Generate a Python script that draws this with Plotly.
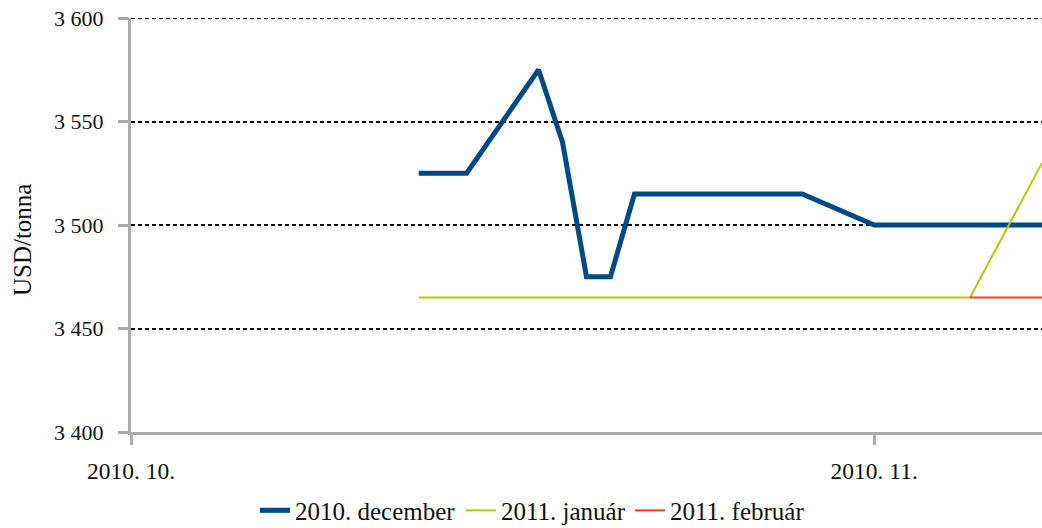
import plotly.graph_objects as go

# Daily price quotes (USD/tonna) by delivery month
dec_dates = ["2010-10-13", "2010-10-14", "2010-10-15", "2010-10-18", "2010-10-19",
             "2010-10-20", "2010-10-21", "2010-10-22", "2010-10-25", "2010-10-26",
             "2010-10-27", "2010-10-28", "2010-10-29", "2010-11-01", "2010-11-02",
             "2010-11-03", "2010-11-04", "2010-11-05", "2010-11-08"]
dec_values = [3525, 3525, 3525, 3575, 3540,
              3475, 3475, 3515, 3515, 3515,
              3515, 3515, 3515, 3500, 3500,
              3500, 3500, 3500, 3500]

jan_dates = ["2010-10-13", "2010-10-14", "2010-10-15", "2010-10-18", "2010-10-19",
             "2010-10-20", "2010-10-21", "2010-10-22", "2010-10-25", "2010-10-26",
             "2010-10-27", "2010-10-28", "2010-10-29", "2010-11-01", "2010-11-02",
             "2010-11-03", "2010-11-04", "2010-11-05", "2010-11-08"]
jan_values = [3465] * 18 + [3530]

feb_dates = ["2010-11-05", "2010-11-08"]
feb_values = [3465, 3465]

series_names = ["2010. december", "2011. január", "2011. február"]

FONT = "Liberation Serif"
TEXT = "#111111"
AXIS_GREY = "#ABABAB"
Y_MIN, Y_MAX = 3400, 3600

fig = go.Figure()
fig.add_trace(go.Scatter(x=dec_dates, y=dec_values, mode="lines", name=series_names[0],
                         line=dict(color="#004A8B", width=5), legend="legend"))
fig.add_trace(go.Scatter(x=jan_dates, y=jan_values, mode="lines", name=series_names[1],
                         line=dict(color="#B3CC00", width=2), legend="legend2"))
fig.add_trace(go.Scatter(x=feb_dates, y=feb_values, mode="lines", name=series_names[2],
                         line=dict(color="#FF4015", width=2), legend="legend3"))

# one legend box per series, laid out in a row below the plot
def legend_box(x):
    return dict(orientation="h", xref="container", yref="container",
                x=x, xanchor="left", y=0.033, yanchor="middle",
                font=dict(size=25, color=TEXT), itemwidth=30,
                bgcolor="rgba(0,0,0,0)", borderwidth=0)

# dotted gridline along the top edge of the plot
fig.add_shape(type="line", xref="paper", yref="y", x0=0, x1=1, y0=Y_MAX, y1=Y_MAX,
              line=dict(color="black", width=2, dash="4px,3px"), layer="above")

fig.add_annotation(text="USD/tonna", xref="paper", yref="paper",
                   x=-0.1197, y=0.466, xanchor="center", yanchor="middle",
                   textangle=-90, showarrow=False,
                   font=dict(family=FONT, size=25, color=TEXT))

fig.update_layout(
    width=1042, height=528,
    margin=dict(l=131, r=0, t=18, b=96),
    paper_bgcolor="white", plot_bgcolor="white",
    font=dict(family=FONT, size=23.5, color=TEXT),
    separators=", ",
    showlegend=True,
    legend=legend_box(255 / 1042),
    legend2=legend_box(461 / 1042),
    legend3=legend_box(630 / 1042),
    xaxis=dict(
        type="date", range=["2010-10-01", "2010-11-08"],
        tick0="2010-10-01", dtick="M1", tickformat="%Y. %m.",
        showgrid=False, zeroline=False,
        showline=True, linecolor=AXIS_GREY, linewidth=3,
        ticks="outside", ticklen=10, tickwidth=3, tickcolor=AXIS_GREY,
        ticklabelstandoff=6, tickfont=dict(size=23.5),
    ),
    yaxis=dict(
        range=[Y_MIN, Y_MAX], tick0=Y_MIN, dtick=50, tickformat=",d",
        showgrid=True, gridcolor="black", gridwidth=2, griddash="4px,3px",
        zeroline=False,
        showline=True, linecolor=AXIS_GREY, linewidth=3,
        ticks="outside", ticklen=10, tickwidth=3, tickcolor=AXIS_GREY,
        ticklabelstandoff=10, tickfont=dict(size=22),
    ),
)

fig.write_html("out.html")
